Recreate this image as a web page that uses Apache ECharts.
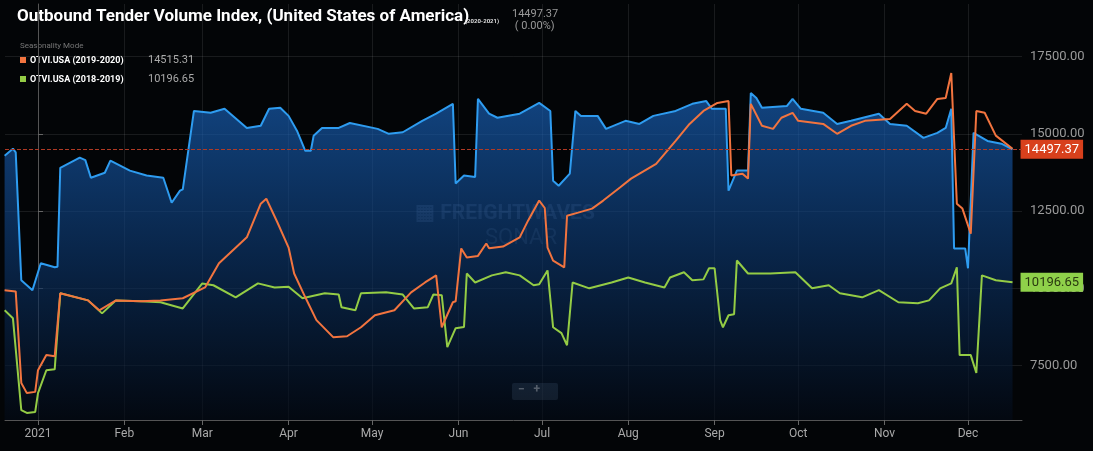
<!DOCTYPE html>
<html><head><meta charset="utf-8">
<script src="https://cdn.jsdelivr.net/npm/echarts@6/dist/echarts.min.js"></script>
<style>html,body{margin:0;padding:0;background:#000;}#c{width:1093px;height:451px;}</style>
</head><body><div id="c"></div>
<script>
// day offsets from 2021-01-01
const blueDays = [-12,-9,-8,-6,-2,1,6,7,8,15,17,19,24,26,33,39,45,48,51,52,56,62,67,75,80,83,87,90,93,96,98,99,102,108,112,122,126,131,138,143,149,150,153,157,158,162,165,173,180,184,185,187,191,193,195,201,204,211,216,221,229,235,240,242,247,248,251,255,256,258,260,269,271,274,282,287,292,302,306,312,318,323,326,328,329,333,334,336,341,346,350];
const blueVals = [14290,14520,14400,10260,9940,10810,10680,10700,13900,14230,14150,13580,13740,14130,13810,13650,13580,12770,13160,13200,15740,15680,15810,15190,15260,15810,15840,15580,15100,14450,14450,14940,15190,15190,15350,15160,15000,15050,15420,15650,15970,13390,13650,13600,16130,15650,15520,15650,16000,15740,13480,13320,13710,15740,15580,15580,15160,15420,15320,15580,15740,15970,16060,15810,15810,13160,13810,13810,16320,16160,15840,15900,16130,15810,15680,15320,15420,15650,15320,15260,14870,15030,15190,15810,11290,11290,10650,15030,14770,14680,14497.37];

const orangeDays = [-12,-8,-6,-4,-1,0,3,6,8,18,22,28,37,44,52,60,65,70,75,80,82,86,90,92,96,100,106,111,116,121,128,134,139,143,145,149,150,152,154,158,161,162,167,173,176,180,182,183,185,189,190,194,199,203,209,213,222,229,234,239,244,248,249,253,255,256,260,264,267,271,273,282,287,292,297,306,312,315,319,323,326,328,330,332,335,337,340,344,350];
const orangeVals = [9940,9900,6940,6610,6650,7350,7840,7800,9840,9610,9290,9610,9580,9610,9680,10030,10810,11230,11650,12740,12900,12130,11320,10480,9710,8970,8420,8450,8740,9130,9290,9870,10190,10420,8740,9550,9580,11290,11000,11050,11450,11300,11350,11650,12190,12840,12600,11320,10900,10680,12350,12450,12580,12840,13260,13550,14030,14770,15320,15740,16000,16060,13650,13710,13550,15970,15260,15160,15520,15680,15420,15320,15000,15260,15420,15480,15970,15740,15650,16130,16160,16970,12740,12580,11770,15740,15680,14940,14515.31];

const greenDays = [-12,-9,-6,-4,-1,0,3,6,8,18,23,28,37,44,52,59,63,71,79,85,90,95,103,108,109,114,116,125,131,135,140,142,145,147,150,153,154,157,163,168,173,178,180,183,185,188,190,192,198,206,212,218,225,227,232,235,239,241,243,245,246,248,250,251,255,263,272,278,284,288,296,302,309,316,320,324,328,330,331,335,337,339,344,350];
const greenVals = [9290,9030,6060,5970,6000,6610,7350,7380,9840,9610,9190,9610,9580,9550,9350,10160,10100,9710,10160,10030,10050,9680,9840,9800,9390,9290,9840,9870,9800,9350,9390,9800,9780,8100,8710,8750,10480,10190,10420,10520,10420,10100,10130,10580,8740,8550,8160,10190,10000,10190,10350,10190,10030,10350,10520,10260,10290,10650,10650,8970,8740,9130,9160,10900,10480,10480,10520,10000,10100,9840,9710,9940,9550,9520,9610,10000,10160,10680,7840,7840,7260,10420,10260,10196.65];

const monthStarts = [0,31,59,90,120,151,181,212,243,273,304,334];
const monthNames = ['2021','Feb','Mar','Apr','May','Jun','Jul','Aug','Sep','Oct','Nov','Dec'];
const yTicks = [7500,10000,12500,15000,17500];

const zip = (d, v) => d.map((x, i) => [x, v[i]]);
const chart = echarts.init(document.getElementById('c'));
chart.setOption({
  backgroundColor: '#030507',
  animation: false,
  grid: {left: 5, right: 71, top: 4, bottom: 31},
  xAxis: {
    type: 'value', min: -11.85, max: 353.4,
    axisLine: {show: true, lineStyle: {color: '#555'}},
    axisTick: {show: true, customValues: monthStarts, lineStyle: {color: '#666'}},
    axisLabel: {customValues: monthStarts, color: '#aaa', fontSize: 12, fontFamily: 'Roboto',
      formatter: v => monthNames[monthStarts.indexOf(Math.round(v))] || ''},
    splitLine: {show: true, lineStyle: {color: 'rgba(255,255,255,0.09)'}}
  },
  yAxis: {
    type: 'value', position: 'right', min: 5740, max: 19200,
    axisLine: {show: true, lineStyle: {color: '#555'}},
    axisTick: {show: true, customValues: yTicks, lineStyle: {color: '#666'}},
    axisLabel: {customValues: yTicks, color: '#9a9a9a', fontSize: 13, fontFamily: 'Roboto',
      formatter: v => v.toFixed(2)},
    splitLine: {show: true, lineStyle: {color: 'rgba(255,255,255,0.09)'}}
  },
  series: [
    {type: 'line', name: 'blue', data: zip(blueDays, blueVals), showSymbol: false, z: 1,
      lineStyle: {color: '#2e9cf0', width: 2},
      areaStyle: {origin: 'start', color: new echarts.graphic.LinearGradient(0,0,0,1,[
        {offset: 0, color: 'rgba(25,100,190,0.95)'},
        {offset: 0.5, color: 'rgba(12,55,110,0.9)'},
        {offset: 1, color: 'rgba(3,10,22,0.9)'}])},
      markLine: {symbol: 'none', silent: true, label: {show: false},
        lineStyle: {color: '#b03a25', type: 'dashed', width: 1},
        data: [{yAxis: 14497.37}]},
      endLabel: {show: true, distance: 8, formatter: '14497.37', color: '#fff', fontSize: 13,
        fontFamily: 'Roboto', backgroundColor: '#d8401c', padding: [3, 4]}
    },
    {type: 'line', name: 'orange', data: zip(orangeDays, orangeVals), showSymbol: false, z: 3,
      lineStyle: {color: '#f2743f', width: 2}},
    {type: 'line', name: 'green', data: zip(greenDays, greenVals), showSymbol: false, z: 2,
      lineStyle: {color: '#94cc45', width: 2},
      endLabel: {show: true, distance: 8, formatter: '10196.65', color: '#2a3a10', fontSize: 13,
        fontFamily: 'Roboto', backgroundColor: '#8fd14a', padding: [3, 4]}}
  ],
  graphic: [
    {type: 'text', left: 17, top: 8, style: {text: 'Outbound Tender Volume Index, (United States of America)', fill: '#fff', font: 'bold 17px "Liberation Sans Narrow", Roboto'}},
    {type: 'text', left: 465, top: 18, style: {text: '(2020-2021)', fill: '#ddd', font: 'bold 6px Roboto'}},
    {type: 'text', left: 512, top: 8, style: {text: '14497.37\n ( 0.00%)', fill: '#999', font: '11px Roboto', lineHeight: 12}},
    {type: 'text', left: 20, top: 42, style: {text: 'Seasonality Mode', fill: '#777', font: '8px Roboto'}},
    {type: 'rect', left: 20, top: 57, shape: {width: 6, height: 6}, style: {fill: '#f2743f'}},
    {type: 'text', left: 30, top: 56, style: {text: 'OTVI.USA (2019-2020)', fill: '#fff', font: 'bold 9px Roboto'}},
    {type: 'text', left: 148, top: 55, style: {text: '14515.31', fill: '#aaa', font: '11px Roboto'}},
    {type: 'rect', left: 20, top: 76, shape: {width: 6, height: 6}, style: {fill: '#94cc45'}},
    {type: 'text', left: 30, top: 75, style: {text: 'OTVI.USA (2018-2019)', fill: '#fff', font: 'bold 9px Roboto'}},
    {type: 'text', left: 148, top: 74, style: {text: '10196.65', fill: '#aaa', font: '11px Roboto'}},
    {type: 'text', left: 415, top: 203, z: 0, style: {text: '▦ FREIGHTWAVES', fill: 'rgba(150,170,200,0.22)', font: 'bold 21px Roboto'}},
    {type: 'text', left: 485, top: 227, z: 0, style: {text: 'SONAR', fill: 'rgba(150,170,200,0.18)', font: '22px Roboto', letterSpacing: 6}},
    {type: 'rect', left: 512, top: 383, shape: {width: 46, height: 17, r: 2}, style: {fill: '#2a3540'}},
    {type: 'text', left: 518, top: 384, style: {text: '−   +', fill: '#ddd', font: 'bold 12px Roboto'}}
  ]
});
</script></body></html>
